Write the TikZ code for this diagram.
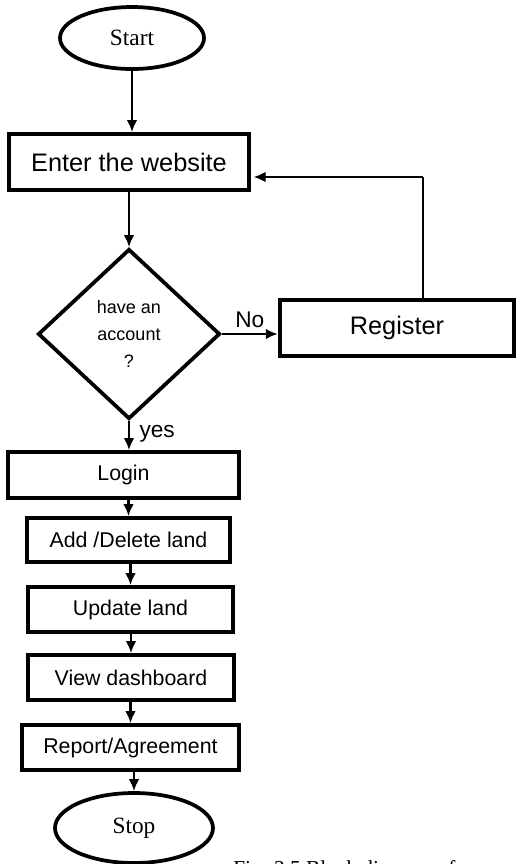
\documentclass[tikz,border=0pt]{standalone}
\usepackage{fontspec}
\setmainfont{Liberation Serif}
\setsansfont{Liberation Sans}
\usetikzlibrary{shapes.geometric,arrows.meta}
\begin{document}
\begin{tikzpicture}[x=0.75pt,y=-0.75pt,
  boxnode/.style={draw,line width=2.8pt,inner sep=0pt,font=\sffamily},
  term/.style={draw,ellipse,line width=2.8pt,inner sep=0pt,font=\rmfamily},
  conn/.style={line width=1.8pt,-{Latex[length=9pt,width=8pt]}},
  plain/.style={line width=1.8pt},
  lbl/.style={font=\sffamily\fontsize{17}{19}\selectfont,inner sep=0pt}]
\clip (0,0) rectangle (516,864);
\node[term,minimum width=108pt,minimum height=46.5pt,font=\rmfamily\fontsize{17.5}{19}\selectfont] (start) at (132,38) {Start};
\node[boxnode,minimum width=180pt,minimum height=42pt,font=\sffamily\fontsize{19}{21}\selectfont] (enter) at (129,162) {Enter the website};
\node[draw,diamond,line width=2.8pt,inner sep=0pt,minimum width=136.5pt,minimum height=127.5pt,align=center,font=\sffamily\fontsize{13.5}{20.5}\selectfont] (dec) at (129,334) {have an\\account\\?};
\node[boxnode,minimum width=176pt,minimum height=42pt,font=\sffamily\fontsize{19}{21}\selectfont] (reg) at (397,328) {Register};
\node[boxnode,minimum width=173pt,minimum height=34.5pt,font=\sffamily\fontsize{16}{18}\selectfont] (login) at (123.5,475) {Login};
\node[boxnode,minimum width=152pt,minimum height=33pt,font=\sffamily\fontsize{16}{18}\selectfont] (add) at (128.5,540) {Add /Delete land};
\node[boxnode,minimum width=154pt,minimum height=33.75pt,font=\sffamily\fontsize{16}{18}\selectfont] (upd) at (130.5,609.5) {Update land};
\node[boxnode,minimum width=154.5pt,minimum height=33.75pt,font=\sffamily\fontsize{16}{18}\selectfont] (view) at (131,677.5) {View dashboard};
\node[boxnode,minimum width=163pt,minimum height=33.75pt,font=\sffamily\fontsize{16}{18}\selectfont] (rep) at (130.5,747.5) {Report/Agreement};
\node[term,minimum width=118.5pt,minimum height=52.5pt,font=\rmfamily\fontsize{17.5}{19}\selectfont] (stop) at (134,828) {Stop};
\coordinate (fb) at (423,177);
\draw[conn] (start.south) -- (start.south |- enter.north);
\draw[conn] (enter.south -| dec.north) -- (dec.north);
\draw[conn] (dec.east) -- (dec.east -| reg.west) node[lbl,midway,above=4pt] {No};
\draw[plain] (reg.north -| fb) -- (fb);
\draw[conn] (fb) -- ([xshift=2pt]enter.east |- fb);
\draw[conn] (dec.south) -- (dec.south |- login.north) node[lbl,pos=0.45,right=7pt] {yes};
\draw[conn] (login.south -| add.north) -- (add.north);
\draw[conn] (add.south -| upd.north) -- (upd.north);
\draw[conn] (upd.south -| view.north) -- (view.north);
\draw[conn] (view.south -| rep.north) -- (rep.north);
\draw[conn] (rep.south -| stop.north) -- (stop.north);
\node[anchor=base west,inner sep=0pt,font=\rmfamily\fontsize{16}{18}\selectfont] (cap) at (233,875) {Fig. 3.5 Block diagram of};
\end{tikzpicture}
\end{document}
